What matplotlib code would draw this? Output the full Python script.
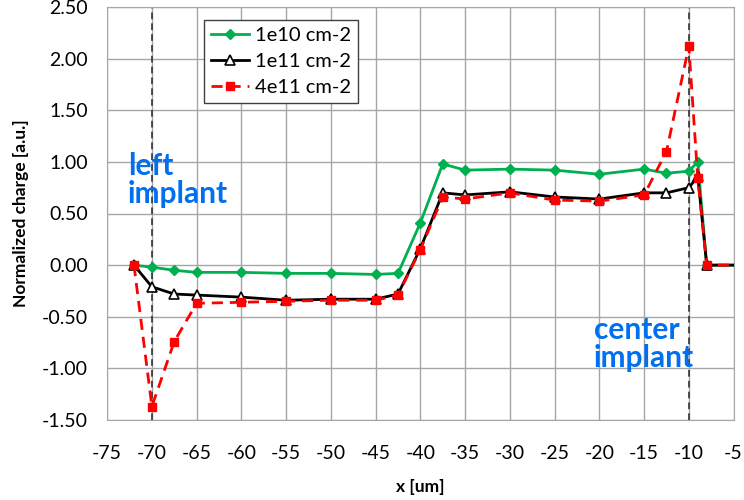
import numpy as np
import matplotlib
matplotlib.use('Agg')
import matplotlib.pyplot as plt

plt.rcParams['font.family'] = ['Lato', 'DejaVu Sans']
plt.rcParams['axes.unicode_minus'] = False

# data
x = [-72, -70, -67.5, -65, -60, -55, -50, -45, -42.5, -40, -37.5, -35, -30,
     -25, -20, -15, -12.5, -10, -9, -8, -5]
q_1e10 = [0.00, -0.02, -0.05, -0.07, -0.07, -0.08, -0.08, -0.09, -0.08, 0.41,
          0.98, 0.92, 0.93, 0.92, 0.88, 0.93, 0.89, 0.91, 1.00, 0.00, 0.00]
q_1e11 = [0.00, -0.21, -0.28, -0.29, -0.31, -0.34, -0.33, -0.33, -0.28, 0.16,
          0.70, 0.68, 0.71, 0.66, 0.64, 0.70, 0.70, 0.75, 0.86, 0.00, 0.00]
q_4e11 = [0.00, -1.37, -0.74, -0.37, -0.36, -0.35, -0.34, -0.34, -0.29, 0.15,
          0.66, 0.64, 0.70, 0.63, 0.62, 0.68, 1.10, 2.12, 0.84, 0.00, 0.00]
labels = ['1e10 cm-2', '1e11 cm-2', '4e11 cm-2']
implants = [-70, -10]

fig = plt.figure(figsize=(7.44, 5.0), dpi=100)
ax = fig.add_axes([0.144, 0.16, 0.842, 0.826])

mk = slice(0, len(x) - 1)
ax.plot(x, q_1e10, color='#00B050', lw=2, marker='D', ms=5,
        markevery=mk, label=labels[0], zorder=3)
ax.plot(x, q_1e11, color='black', lw=2, marker='^', ms=7.5,
        mfc='white', mec='black', mew=1.2, markevery=mk, label=labels[1], zorder=4)
ax.plot(x, q_4e11, color='#FF0000', lw=2, ls=(0, (4, 2.5)), marker='s', ms=6,
        markevery=mk, label=labels[2], zorder=5)

for xv in implants:
    ax.axvline(xv, color='#333333', lw=1.2, ls=(0, (4, 2.5)), zorder=2)

ax.set_xlim(-75, -5)
ax.set_ylim(-1.5, 2.5)
ax.set_xticks(np.arange(-75, -4, 5))
ax.set_yticks(np.arange(-1.5, 2.51, 0.5))
ax.set_yticklabels([f'{v:.2f}' for v in np.arange(-1.5, 2.51, 0.5)])
ax.grid(True, color='#a6a6a6', lw=1)
ax.set_axisbelow(True)
for s in ax.spines.values():
    s.set_color('#a6a6a6')
ax.tick_params(axis='x', length=0, labelsize=14, pad=18)
ax.tick_params(axis='y', length=0, labelsize=14, pad=14)

ax.set_xlabel('x [um]', fontsize=12.5, fontweight='bold', labelpad=12)
ax.set_ylabel('Normalized charge [a.u.]', fontsize=12.5, fontweight='bold', labelpad=9)

ax.text(-72.7, 0.82, 'left\nimplant', color='#0070F0', fontsize=21.5,
        fontweight='bold', va='center', ha='left', linespacing=1.0)
ax.text(-20.6, -0.76, 'center\nimplant', color='#0070F0', fontsize=21.5,
        fontweight='bold', va='center', ha='left', linespacing=1.0)

leg = ax.legend(loc='upper left', bbox_to_anchor=(0.154, 0.969), fontsize=14.5,
                frameon=True, fancybox=False, handlelength=1.9,
                borderpad=0.35, labelspacing=0.45, handletextpad=0.3,
                borderaxespad=0)
leg.get_frame().set_edgecolor('#404040')
leg.get_frame().set_linewidth(1.0)
leg.get_frame().set_alpha(1)

fig.savefig('out.png', dpi=100)
